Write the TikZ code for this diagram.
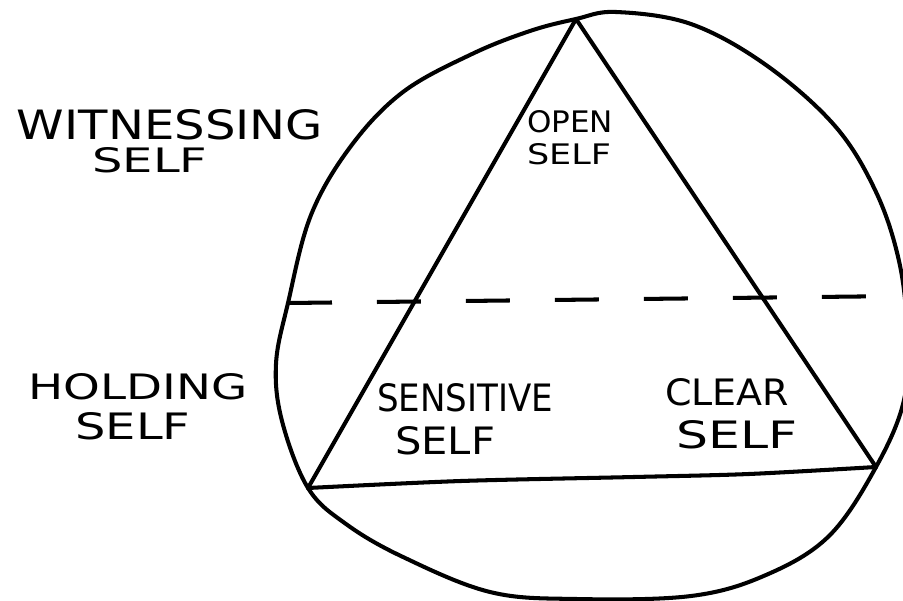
\documentclass[tikz,border=0pt]{standalone}
\usepackage{fontspec}
\setmainfont{DejaVu Sans}
\usepackage{graphicx}
\newcommand{\hlbl}[3]{\resizebox{#1\dimexpr0.02cm\relax}{#2\dimexpr0.02cm\relax}{#3}}
\tikzset{
  pen/.style={line width=2.3pt, line cap=round, line join=round, black},
  dashpen/.style={pen, line cap=butt, dash pattern=on 0.88cm off 0.9cm},
  lbl/.style={inner sep=0pt, anchor=center, font=\fontsize{20}{20}\selectfont}
}
\begin{document}
\begin{tikzpicture}[x=0.02cm,y=-0.02cm]
\useasboundingbox (0,0) rectangle (903,601);
% egg outline
\draw[pen] plot[smooth cycle, tension=0.6] coordinates {
 (576,19) (616,12) (691,24) (766,65) (835,126) (876,192) (899,261) (907,330)
 (904,400) (876,467) (829,536) (766,575) (691,596) (576,599) (490,592)
 (403,557) (346,524) (308,488) (282,421) (276,364) (288,303) (311,215)
 (351,146) (403,92) (472,54) (530,31)};
% triangle
\coordinate (apex) at (576,19);
\coordinate (bl) at (308,488);
\coordinate (br) at (876,467);
\draw[pen] (bl) -- (apex) -- (br);
\draw[pen] plot[smooth, tension=0.5] coordinates {(bl) (461,481) (634,477) (749,474) (br)};
% dashed divider
\coordinate (dl) at (288,303);
\coordinate (dr) at (903,296);
\draw[dashpen] (dl) -- (dr);
% labels
\node[lbl] (wit1) at (170,125) {\hlbl{306}{30}{WITNESSING}};
\node[lbl] (wit2) at (150,160) {\hlbl{115}{25}{SELF}};
\node[lbl] (open1) at (570,122) {\hlbl{86}{22}{OPEN}};
\node[lbl] (open2) at (569,154) {\hlbl{84}{21}{SELF}};
\node[lbl] (hold1) at (138,387) {\hlbl{219}{26}{HOLDING}};
\node[lbl] (hold2) at (133,426) {\hlbl{115}{27}{SELF}};
\node[lbl] (sens1) at (465,398) {\hlbl{176}{28}{SENSITIVE}};
\node[lbl] (sens2) at (445,441) {\hlbl{100}{28}{SELF}};
\node[lbl] (clear1) at (727,392) {\hlbl{124}{27}{CLEAR}};
\node[lbl] (clear2) at (737,435) {\hlbl{121}{28}{SELF}};
\end{tikzpicture}
\end{document}
